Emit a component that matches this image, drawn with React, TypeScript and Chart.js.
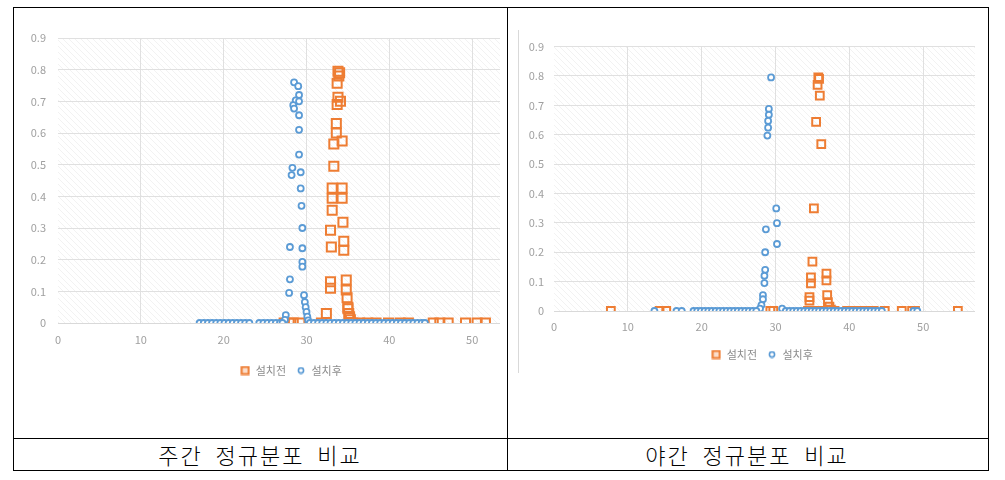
import React, { useEffect, useRef } from "react";
import { Chart, registerables } from "chart.js";

Chart.register(...registerables);

// ---------- data ----------
const seriesNames = ["설치전", "설치후"];
const captions = ["주간 정규분포 비교", "야간 정규분포 비교"];
const xTickValues = [0, 10, 20, 30, 40, 50, 60];
const yTickValues = [0, 0.1, 0.2, 0.3, 0.4, 0.5, 0.6, 0.7, 0.8, 0.9];

// 주간 (day) - 설치전
const dayBefore: [number, number][] = [
  [33.8, 0.795], [34.0, 0.79], [33.9, 0.78], [33.7, 0.757], [33.8, 0.713], [34.1, 0.7],
  [33.7, 0.69], [33.6, 0.63], [33.6, 0.6], [34.3, 0.575], [33.3, 0.565], [33.3, 0.495],
  [33.1, 0.426], [34.3, 0.426], [33.1, 0.394], [34.3, 0.394], [33.1, 0.356], [34.4, 0.318],
  [32.9, 0.293], [34.5, 0.258], [33.0, 0.24], [34.5, 0.23], [32.9, 0.13], [32.9, 0.11],
  [34.8, 0.136], [34.8, 0.104], [34.9, 0.08], [35.0, 0.05], [35.0, 0.045], [35.1, 0.03],
  [35.2, 0.02], [35.3, 0.01], [32.4, 0.03],
  [27.3, 0], [27.9, 0], [28.4, 0], [29.2, 0], [31.8, 0], [35.6, 0], [36.4, 0], [37.4, 0],
  [38.4, 0], [39.9, 0], [41.3, 0], [42.3, 0], [45.3, 0], [46.1, 0], [47.1, 0], [49.2, 0],
  [50.6, 0], [51.6, 0],
];

// 주간 (day) - 설치후
const dayAfter: [number, number][] = [
  [28.5, 0.76], [29.0, 0.748], [29.1, 0.72], [28.7, 0.703], [29.1, 0.7], [28.4, 0.688],
  [28.5, 0.677], [29.1, 0.656], [29.1, 0.61], [29.1, 0.532], [28.3, 0.49], [28.2, 0.467],
  [29.3, 0.476], [29.3, 0.425], [29.4, 0.37], [29.5, 0.3], [28.0, 0.24], [29.5, 0.236],
  [29.5, 0.193], [29.5, 0.178], [28.0, 0.138], [27.9, 0.095], [29.7, 0.088], [29.8, 0.066],
  [29.9, 0.05], [30.0, 0.035], [30.1, 0.02], [27.5, 0.025], [27.4, 0.01], [30.2, 0.008],
  [17.1, 0], [17.6, 0], [18.1, 0], [18.6, 0], [19.1, 0], [19.6, 0], [20.1, 0], [20.6, 0],
  [21.1, 0], [21.6, 0], [22.1, 0], [22.6, 0], [23.1, 0], [24.3, 0], [24.8, 0], [25.3, 0],
  [25.8, 0], [26.3, 0], [26.8, 0], [27.1, 0], [30.4, 0], [30.9, 0], [31.4, 0], [31.9, 0],
  [32.4, 0], [32.9, 0], [33.4, 0], [33.9, 0], [34.4, 0], [34.9, 0], [35.4, 0], [35.9, 0],
  [36.4, 0], [36.9, 0], [37.4, 0], [37.9, 0], [38.4, 0], [38.9, 0], [39.4, 0], [39.9, 0],
  [40.4, 0], [40.9, 0], [41.4, 0], [41.9, 0], [42.4, 0], [42.9, 0], [43.4, 0], [43.9, 0],
  [44.3, 0],
];

// 야간 (night) - 설치전
const nightBefore: [number, number][] = [
  [35.8, 0.795], [35.9, 0.79], [35.7, 0.77], [36.0, 0.733], [35.5, 0.644], [36.2, 0.568],
  [35.2, 0.349], [35.0, 0.168], [34.8, 0.114], [34.8, 0.094], [36.9, 0.127], [36.9, 0.104],
  [34.6, 0.047], [34.6, 0.035], [37.0, 0.054], [37.1, 0.03], [37.3, 0.015], [37.5, 0.005],
  [7.7, 0], [14.3, 0], [15.2, 0], [29.3, 0], [29.7, 0], [34.4, 0], [35.6, 0], [36.4, 0],
  [38.0, 0], [39.7, 0], [40.4, 0], [41.2, 0], [42.3, 0], [43.3, 0], [44.8, 0], [47.1, 0],
  [48.5, 0], [48.9, 0], [54.7, 0],
];

// 야간 (night) - 설치후
const nightAfter: [number, number][] = [
  [29.4, 0.795], [29.1, 0.688], [29.1, 0.668], [29.0, 0.647], [29.0, 0.624], [28.9, 0.597],
  [30.1, 0.349], [30.2, 0.299], [28.7, 0.278], [30.2, 0.228], [28.6, 0.2], [28.6, 0.14],
  [28.5, 0.12], [28.5, 0.095], [28.3, 0.054], [28.3, 0.04], [28.1, 0.02], [27.9, 0.008],
  [30.9, 0.008],
  [13.6, 0], [16.6, 0], [17.3, 0], [18.9, 0], [19.4, 0], [19.9, 0], [20.4, 0], [20.9, 0],
  [21.4, 0], [21.9, 0], [22.4, 0], [22.9, 0], [23.4, 0], [23.9, 0], [24.4, 0], [24.9, 0],
  [25.4, 0], [25.9, 0], [26.4, 0], [26.9, 0], [27.4, 0], [31.4, 0], [31.9, 0], [32.4, 0],
  [32.9, 0], [33.4, 0], [33.9, 0], [34.4, 0], [34.9, 0], [35.4, 0], [35.9, 0], [36.4, 0],
  [36.9, 0], [37.4, 0], [37.9, 0], [38.4, 0], [38.9, 0], [39.4, 0], [39.9, 0], [40.4, 0],
  [40.9, 0], [41.4, 0], [41.9, 0], [42.4, 0], [42.9, 0], [43.4, 0], [43.9, 0], [44.4, 0],
  [48.7, 0], [49.2, 0],
];

// ---------- styles ----------
const ORANGE = "#EE7D33";
const BLUE = "#5B9BD5";
const TICK_COLOR = "#a0a0a0";
const GRID_COLOR = "#e0e0e0";
const FONT = "'Noto Sans CJK KR', 'Noto Sans', sans-serif";

const hatchPlugin = {
  id: "hatchBg",
  beforeDraw(chart: any) {
    const { ctx, chartArea, width, height } = chart;
    ctx.save();
    ctx.fillStyle = "#ffffff";
    ctx.fillRect(0, 0, width, height);
    const p = document.createElement("canvas");
    p.width = 6;
    p.height = 6;
    const pc = p.getContext("2d")!;
    pc.strokeStyle = "#f2f2f2";
    pc.lineWidth = 1;
    pc.beginPath();
    pc.moveTo(-1, -1);
    pc.lineTo(7, 7);
    pc.stroke();
    const pat = ctx.createPattern(p, "repeat");
    if (pat) {
      ctx.fillStyle = pat;
      ctx.fillRect(chartArea.left, chartArea.top, chartArea.right - chartArea.left, chartArea.bottom - chartArea.top);
    }
    ctx.restore();
  },
};

function makeIcon(kind: "square" | "circle"): HTMLCanvasElement {
  const c = document.createElement("canvas");
  if (kind === "square") {
    c.width = 10;
    c.height = 10;
    const g = c.getContext("2d")!;
    g.fillStyle = "rgba(238,125,51,0.25)";
    g.fillRect(1, 1, 8, 8);
    g.strokeStyle = ORANGE;
    g.lineWidth = 2;
    g.strokeRect(1.5, 1.5, 7, 7);
  } else {
    c.width = 8;
    c.height = 8;
    const g = c.getContext("2d")!;
    g.fillStyle = "#ffffff";
    g.strokeStyle = BLUE;
    g.lineWidth = 1.6;
    g.beginPath();
    g.arc(4, 4, 2.6, 0, Math.PI * 2);
    g.fill();
    g.stroke();
  }
  return c;
}

type Geo = {
  canvasLeft: number;
  canvasTop: number;
  width: number;
  height: number;
  clipLeft: number;
  clipTop: number;
  clipWidth: number;
  clipHeight: number;
  padding: { left: number; top: number; right: number; bottom: number };
  yAxisWidth: number;
  xAxisHeight: number;
  xTickPad: number;
  yTickPad: number;
  rectRadius: number;
  circleRadius: number;
};

function ScatterPanel({ before, after, geo }: { before: [number, number][]; after: [number, number][]; geo: Geo }) {
  const ref = useRef<HTMLCanvasElement | null>(null);
  useEffect(() => {
    if (!ref.current) return;
    const icons = [makeIcon("square"), makeIcon("circle")];
    const chart = new Chart(ref.current, {
      type: "scatter",
      data: {
        datasets: [
          {
            label: seriesNames[0],
            data: before.map(([x, y]) => ({ x, y })),
            pointStyle: "rect",
            pointRadius: geo.rectRadius,
            pointBorderWidth: 2,
            borderColor: ORANGE,
            backgroundColor: "rgba(255,255,255,0)",
            order: 2,
          },
          {
            label: seriesNames[1],
            data: after.map(([x, y]) => ({ x, y })),
            pointStyle: "circle",
            pointRadius: geo.circleRadius,
            pointBorderWidth: 1.8,
            borderColor: BLUE,
            backgroundColor: "#ffffff",
            order: 1,
          },
        ],
      },
      options: {
        animation: false,
        responsive: false,
        maintainAspectRatio: false,
        devicePixelRatio: 1,
        layout: { padding: geo.padding },
        font: { family: FONT },
        plugins: {
          tooltip: { enabled: false },
          legend: {
            position: "bottom",
            labels: {
              usePointStyle: true,
              boxWidth: 10,
              boxHeight: 10,
              padding: 10,
              color: "#8c8c8c",
              font: { size: 11, family: FONT },
              generateLabels: (c: any) => {
                const items = (Chart.defaults.plugins.legend.labels as any).generateLabels(c);
                items.forEach((it: any) => {
                  it.pointStyle = icons[it.datasetIndex];
                });
                return items;
              },
              sort: (a: any, b: any) => a.datasetIndex - b.datasetIndex,
            },
          },
        },
        scales: {
          x: {
            type: "linear",
            min: xTickValues[0],
            max: xTickValues[xTickValues.length - 1],
            afterBuildTicks: (s: any) => {
              s.ticks = xTickValues.map((v) => ({ value: v }));
            },
            afterFit: (s: any) => {
              s.height = geo.xAxisHeight;
            },
            grid: {
              drawTicks: false,
              color: (c: any) => (c.tick && c.tick.value === 0 ? "rgba(0,0,0,0)" : GRID_COLOR),
            },
            border: { display: true, color: "#d9d9d9" },
            ticks: {
              padding: geo.xTickPad,
              color: TICK_COLOR,
              font: { size: 11, family: FONT },
              maxRotation: 0,
              callback: (v: any) => String(v),
            },
          },
          y: {
            type: "linear",
            min: yTickValues[0],
            max: yTickValues[yTickValues.length - 1],
            afterBuildTicks: (s: any) => {
              s.ticks = yTickValues.map((v) => ({ value: v }));
            },
            afterFit: (s: any) => {
              s.width = geo.yAxisWidth;
            },
            grid: { drawTicks: false, color: GRID_COLOR },
            border: { display: false },
            ticks: {
              padding: geo.yTickPad,
              color: TICK_COLOR,
              font: { size: 11, family: FONT },
              callback: (v: any) => String(Math.round(Number(v) * 10) / 10),
            },
          },
        },
      },
      plugins: [hatchPlugin],
    });
    return () => chart.destroy();
  }, []);
  return (
    <div
      style={{
        position: "absolute",
        left: geo.clipLeft,
        top: geo.clipTop,
        width: geo.clipWidth,
        height: geo.clipHeight,
        overflow: "hidden",
      }}
    >
      <canvas
        ref={ref}
        width={geo.width}
        height={geo.height}
        style={{
          position: "absolute",
          left: geo.canvasLeft - geo.clipLeft,
          top: geo.canvasTop - geo.clipTop,
          width: geo.width,
          height: geo.height,
        }}
      />
    </div>
  );
}

const leftGeo: Geo = {
  canvasLeft: 13,
  canvasTop: 7,
  width: 560,
  height: 387,
  clipLeft: 14,
  clipTop: 8,
  clipWidth: 486,
  clipHeight: 429,
  padding: { left: 14, top: 31, right: 18, bottom: 8 },
  yAxisWidth: 31,
  xAxisHeight: 32,
  xTickPad: 10,
  yTickPad: 12,
  rectRadius: 6.4,
  circleRadius: 3,
};

const rightGeo: Geo = {
  canvasLeft: 519,
  canvasTop: 30,
  width: 500,
  height: 343,
  clipLeft: 519,
  clipTop: 30,
  clipWidth: 456,
  clipHeight: 343,
  padding: { left: 8, top: 13, right: 22, bottom: 3 },
  yAxisWidth: 27,
  xAxisHeight: 28,
  xTickPad: 9,
  yTickPad: 10,
  rectRadius: 5.5,
  circleRadius: 3,
};

function Line({ x, y, w, h, color = "#000" }: { x: number; y: number; w: number; h: number; color?: string }) {
  return <div style={{ position: "absolute", left: x, top: y, width: w, height: h, background: color }} />;
}

export default function App() {
  const captionStyle = (cx: number): React.CSSProperties => ({
    position: "absolute",
    left: cx - 200,
    width: 400,
    top: 438,
    height: 32,
    lineHeight: "32px",
    textAlign: "center",
    fontFamily: "'Noto Sans CJK KR', serif",
    fontSize: 22,
    fontWeight: 300,
    letterSpacing: 2,
    wordSpacing: 6,
    color: "#000",
  });
  return (
    <div style={{ position: "absolute", left: 0, top: 0, width: 1005, height: 480, background: "#fff" }}>
      <ScatterPanel before={dayBefore} after={dayAfter} geo={leftGeo} />
      <ScatterPanel before={nightBefore} after={nightAfter} geo={rightGeo} />
      <Line x={518} y={30} w={1} h={343} color="#d9d9d9" />
      {/* table borders */}
      <Line x={13} y={7} w={976} h={1} />
      <Line x={13} y={470} w={976} h={1} />
      <Line x={13} y={438} w={976} h={1} />
      <Line x={13} y={7} w={1} h={464} />
      <Line x={507} y={7} w={1} h={464} />
      <Line x={988} y={7} w={1} h={464} />
      <div style={captionStyle(260)}>{captions[0]}</div>
      <div style={captionStyle(747)}>{captions[1]}</div>
    </div>
  );
}
